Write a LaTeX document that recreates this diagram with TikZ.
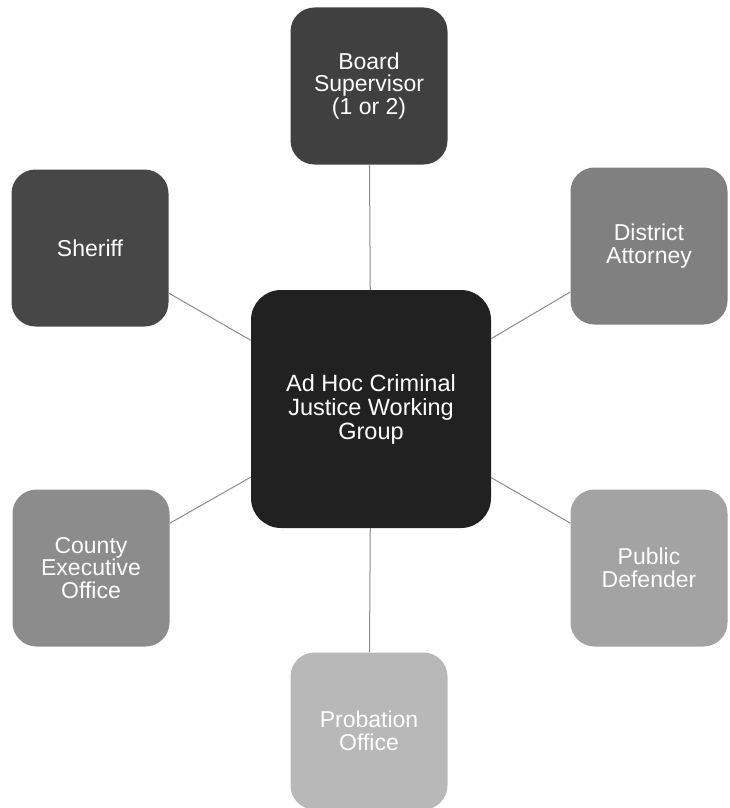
\documentclass[tikz,border=0pt]{standalone}
\usepackage{fontspec}
\setmainfont{Liberation Sans}
\usepackage{tikz}
\tikzset{
  unit/.style={rounded corners=24pt, minimum width=157pt, minimum height=157pt,
    inner sep=0pt, text=white, align=center, font=\fontsize{23}{22.5}\selectfont},
  hub/.style={unit, minimum width=240pt, minimum height=238pt, rounded corners=30pt,
    font=\fontsize{23.5}{24}\selectfont},
  link/.style={draw=black!45, line width=1pt}
}

\begin{document}
\begin{tikzpicture}[x=1pt, y=-1pt]

    \useasboundingbox (0,0) rectangle (730,808);

    % Central working group
    \node[hub, fill=black!87] (group) at (371,409) {Ad Hoc Criminal\\Justice Working\\Group};

    % Member offices
    \node[unit, fill=black!75] (board) at (369,86) {Board\\Supervisor\\(1 or 2)};
    \node[unit, fill=black!72] (sheriff) at (90,248) {Sheriff};
    \node[unit, fill=black!50] (da) at (649,246) {District\\Attorney};
    \node[unit, fill=black!45] (ceo) at (91,568) {County\\Executive\\Office};
    \node[unit, fill=black!36] (pd) at (649,568) {Public\\Defender};
    \node[unit, fill=black!28] (probation) at (369,731) {Probation\\Office};

    % Links to the group
    \foreach \n in {board,sheriff,da,ceo,pd,probation}
        \draw[link] (group) -- (\n);

\end{tikzpicture}
\end{document}
